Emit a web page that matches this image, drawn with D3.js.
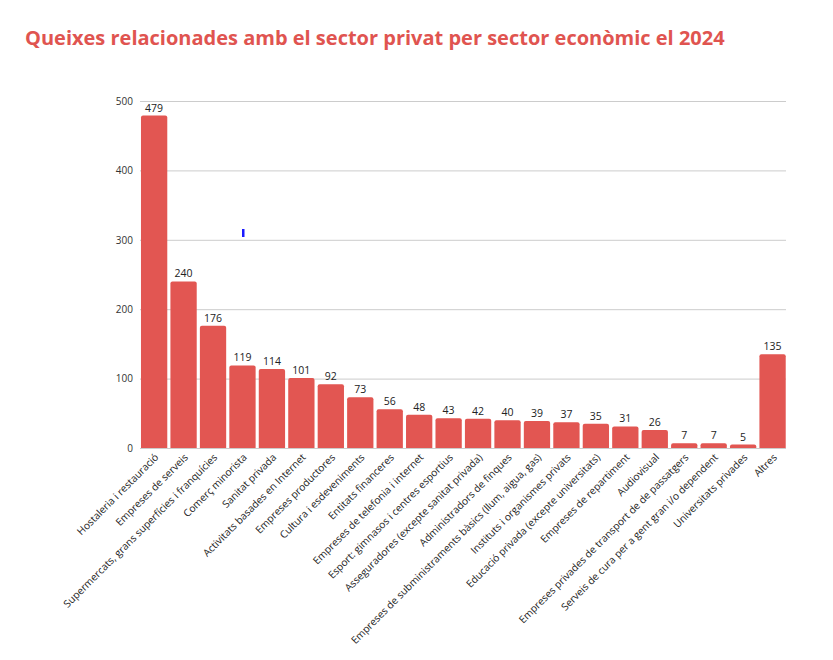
<!DOCTYPE html>
<html>
<head>
<meta charset="utf-8">
<script src="https://cdn.jsdelivr.net/npm/d3@7"></script>
<style>
  html, body { margin: 0; padding: 0; background: #fff; }
  svg { display: block; font-family: "Open Sans", "Noto Sans", sans-serif; }
</style>
</head>
<body>
<svg id="chart" width="833" height="660"></svg>
<script>
const title = "Queixes relacionades amb el sector privat per sector econòmic el 2024";
const categories = [
  "Hostaleria i restauració",
  "Empreses de serveis",
  "Supermercats, grans superfícies i franquícies",
  "Comerç minorista",
  "Sanitat privada",
  "Activitats basades en Internet",
  "Empreses productores",
  "Cultura i esdeveniments",
  "Entitats financeres",
  "Empreses de telefonia i internet",
  "Esport: gimnasos i centres esportius",
  "Asseguradores (excepte sanitat privada)",
  "Administradors de finques",
  "Empreses de subministraments bàsics (llum, aigua, gas)",
  "Instituts i organismes privats",
  "Educació privada (excepte universitats)",
  "Empreses de repartiment",
  "Audiovisual",
  "Empreses privades de transport de de passatgers",
  "Serveis de cura per a gent gran i/o dependent",
  "Universitats privades",
  "Altres"
];
const values = [479, 240, 176, 119, 114, 101, 92, 73, 56, 48, 43, 42, 40, 39, 37, 35, 31, 26, 7, 7, 5, 135];
const yTicks = [0, 100, 200, 300, 400, 500];

const svg = d3.select("#chart");
const barColor = "#e25652";

svg.append("text")
  .attr("x", 25).attr("y", 45)
  .attr("fill", "#e05450")
  .attr("font-size", 20)
  .attr("font-weight", 700)
  .text(title);

const x = d3.scaleBand()
  .domain(categories)
  .range([139.4, 787.3])
  .paddingInner(0.107)
  .paddingOuter(0.0535);

const y = d3.scaleLinear().domain([0, 500]).range([448, 101]);

// gridlines
svg.append("g")
  .selectAll("line")
  .data(yTicks)
  .join("line")
  .attr("x1", 140).attr("x2", 786)
  .attr("y1", d => y(d) + 0.5).attr("y2", d => y(d) + 0.5)
  .attr("stroke", "#cccccc")
  .attr("stroke-width", 1);

// y axis labels
const yAxis = d3.axisLeft(y).tickValues(yTicks).tickSize(0).tickPadding(0);
const gy = svg.append("g").attr("transform", "translate(133,0)").call(yAxis);
gy.select(".domain").remove();
gy.selectAll("text")
  .attr("font-family", "'Open Sans', sans-serif")
  .attr("font-size", 10)
  .attr("fill", "#333");

// bars with slightly rounded top corners
function barPath(x0, w, yTop, yBase, r) {
  const h = yBase - yTop;
  const rr = Math.min(r, h, w / 2);
  return `M${x0},${yBase}V${yTop + rr}Q${x0},${yTop} ${x0 + rr},${yTop}H${x0 + w - rr}Q${x0 + w},${yTop} ${x0 + w},${yTop + rr}V${yBase}Z`;
}

svg.append("g")
  .selectAll("path")
  .data(values)
  .join("path")
  .attr("d", (d, i) => barPath(x(categories[i]), x.bandwidth(), y(d), y(0), 2))
  .attr("fill", barColor);

// value labels
svg.append("g")
  .selectAll("text")
  .data(values)
  .join("text")
  .attr("x", (d, i) => x(categories[i]) + x.bandwidth() / 2)
  .attr("y", d => y(d) - 4)
  .attr("text-anchor", "middle")
  .attr("font-size", 10.5)
  .attr("fill", "#222")
  .text(d => d);

// x labels
svg.append("g")
  .selectAll("text")
  .data(categories)
  .join("text")
  .attr("transform", d => `translate(${x(d) + x.bandwidth() / 2 + 5},${458}) rotate(-45)`)
  .attr("text-anchor", "end")
  .attr("font-size", 10.2)
  .attr("fill", "#222")
  .text(d => d);

// small blue marker present in the reference image
svg.append("rect")
  .attr("x", 242).attr("y", 229).attr("width", 2.5).attr("height", 8)
  .attr("fill", "#1a1aff");
</script>
</body>
</html>
